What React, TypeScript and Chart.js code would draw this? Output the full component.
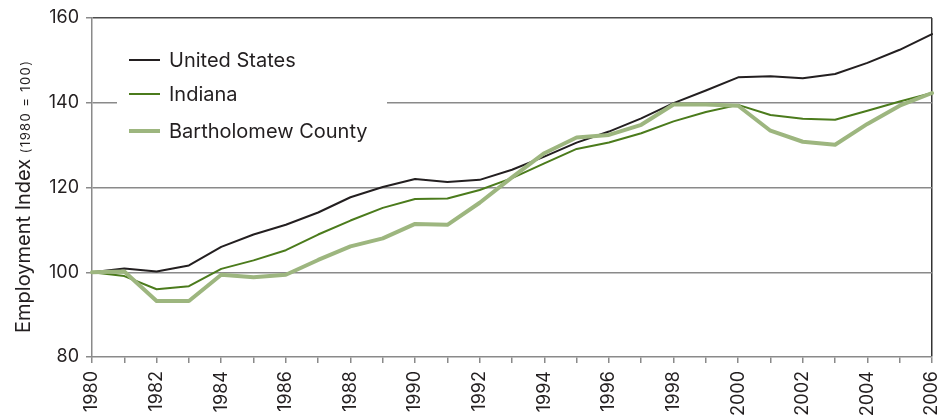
import React, { useEffect, useRef } from "react";
import { Chart, registerables } from "chart.js";

Chart.register(...registerables);

const years = [
  "1980", "1981", "1982", "1983", "1984", "1985", "1986", "1987", "1988",
  "1989", "1990", "1991", "1992", "1993", "1994", "1995", "1996", "1997",
  "1998", "1999", "2000", "2001", "2002", "2003", "2004", "2005", "2006",
];

const unitedStates = [
  100, 100.9, 100.2, 101.6, 106.0, 108.9, 111.2, 114.1, 117.7, 120.1, 122.0,
  121.3, 121.8, 124.2, 127.3, 130.6, 133.2, 136.3, 139.9, 142.9, 146.0, 146.25,
  145.8, 146.8, 149.4, 152.5, 156.2,
];

const indiana = [
  100, 99.1, 96.0, 96.7, 100.8, 102.8, 105.2, 108.9, 112.2, 115.2, 117.3,
  117.4, 119.4, 122.2, 125.7, 129.1, 130.6, 132.8, 135.6, 137.8, 139.5, 137.1,
  136.2, 136.0, 138.1, 140.3, 142.3,
];

const bartholomew = [
  100, 100.2, 93.2, 93.2, 99.4, 98.8, 99.4, 102.9, 106.1, 108.0, 111.4, 111.2,
  116.4, 122.4, 128.1, 131.8, 132.4, 134.8, 139.6, 139.6, 139.3, 133.4, 130.8,
  130.1, 135.0, 139.3, 142.3,
];

const seriesNames = ["United States", "Indiana", "Bartholomew County"];
const yTicks = [80, 100, 120, 140, 160];
const axisTitleMain = "Employment Index";
const axisTitleSub = "(1980 = 100)";

const FONT = "Inter, 'Liberation Sans', Arial, sans-serif";
const TEXT = "#231f20";

const legendPlugin = {
  id: "insideLegend",
  beforeDatasetsDraw(chart: any) {
    const { ctx, chartArea } = chart;
    ctx.save();
    ctx.fillStyle = "#ffffff";
    ctx.fillRect(chartArea.left + 25, chartArea.top + 20, 270, 128);
    const rowsY = [60, 94, 131];
    chart.data.datasets.forEach((ds: any, i: number) => {
      const y = rowsY[i];
      ctx.strokeStyle = ds.borderColor;
      ctx.lineWidth = ds.borderWidth;
      ctx.beginPath();
      ctx.moveTo(chartArea.left + 37, y);
      ctx.lineTo(chartArea.left + 68, y);
      ctx.stroke();
      ctx.fillStyle = TEXT;
      ctx.font = `20px ${FONT}`;
      ctx.textBaseline = "middle";
      ctx.textAlign = "left";
      ctx.fillText(ds.label, chartArea.left + 77, y + 1);
    });
    ctx.restore();
  },
};

const axisTitlePlugin = {
  id: "axisTitle",
  afterDraw(chart: any) {
    const { ctx } = chart;
    ctx.save();
    ctx.translate(30, 333);
    ctx.rotate(-Math.PI / 2);
    ctx.fillStyle = TEXT;
    ctx.textBaseline = "alphabetic";
    ctx.textAlign = "left";
    ctx.font = `20px ${FONT}`;
    ctx.fillText(axisTitleMain, 0, 0);
    const w = ctx.measureText(axisTitleMain + " ").width;
    ctx.font = `13px ${FONT}`;
    try {
      (ctx as any).letterSpacing = "1.4px";
    } catch (e) {}
    ctx.fillText(axisTitleSub, w, 0);
    ctx.restore();
  },
};

export default function App() {
  const canvasRef = useRef<HTMLCanvasElement | null>(null);

  useEffect(() => {
    if (!canvasRef.current) return;
    const chart = new Chart(canvasRef.current, {
      type: "line",
      data: {
        labels: years,
        datasets: [
          {
            label: seriesNames[0],
            data: unitedStates,
            borderColor: "#231f20",
            borderWidth: 2,
            pointRadius: 0,
            tension: 0,
            order: 1,
          },
          {
            label: seriesNames[1],
            data: indiana,
            borderColor: "#4b7b1c",
            borderWidth: 2,
            pointRadius: 0,
            tension: 0,
            order: 2,
          },
          {
            label: seriesNames[2],
            data: bartholomew,
            borderColor: "#9db67f",
            borderWidth: 4,
            pointRadius: 0,
            tension: 0,
            order: 0,
          },
        ],
      },
      options: {
        animation: false,
        responsive: true,
        maintainAspectRatio: false,
        layout: { padding: { left: 0, top: 18, right: 17, bottom: 0 } },
        plugins: {
          legend: { display: false },
          tooltip: { enabled: false },
        },
        elements: { line: { borderJoinStyle: "round", borderCapStyle: "round" } },
        scales: {
          x: {
            type: "category",
            offset: false,
            afterFit: (scale: any) => {
              scale.height = 62;
              scale.paddingRight = 0;
              scale.paddingLeft = 0;
            },
            grid: {
              drawOnChartArea: true,
              color: (ctx: any) =>
                ctx.index === years.length - 1 ? "#333333" : "rgba(0,0,0,0)",
              lineWidth: 1.5,
              tickColor: "#8a8a8a",
              tickLength: 6,
            },
            border: { display: true, color: "#8a8a8a", width: 1.5 },
            ticks: {
              autoSkip: false,
              maxRotation: 90,
              minRotation: 90,
              padding: 8,
              color: TEXT,
              font: { family: FONT, size: 18 },
              callback: (_v: any, i: number) => (i % 2 === 0 ? years[i] : ""),
            },
          },
          y: {
            min: yTicks[0],
            max: yTicks[yTicks.length - 1],
            afterFit: (scale: any) => {
              scale.width = 92;
              scale.paddingTop = 0;
              scale.paddingBottom = 0;
            },
            afterBuildTicks: (scale: any) => {
              scale.ticks = yTicks.map((v) => ({ value: v }));
            },
            grid: {
              color: (ctx: any) =>
                ctx.tick && ctx.tick.value === 160
                  ? "#4d4d4d"
                  : ctx.tick && ctx.tick.value === 80
                  ? "rgba(0,0,0,0)"
                  : "#8a8a8a",
              lineWidth: 1.5,
              tickColor: "#8a8a8a",
              tickLength: 6,
            },
            border: { display: true, color: "#8a8a8a", width: 1.5 },
            ticks: {
              padding: 7,
              color: TEXT,
              font: { family: FONT, size: 18 },
            },
          },
        },
      },
      plugins: [legendPlugin, axisTitlePlugin],
    } as any);
    return () => chart.destroy();
  }, []);

  return (
    <div style={{ position: "absolute", left: 0, top: 0, width: 949, height: 419 }}>
      <canvas ref={canvasRef} />
    </div>
  );
}
